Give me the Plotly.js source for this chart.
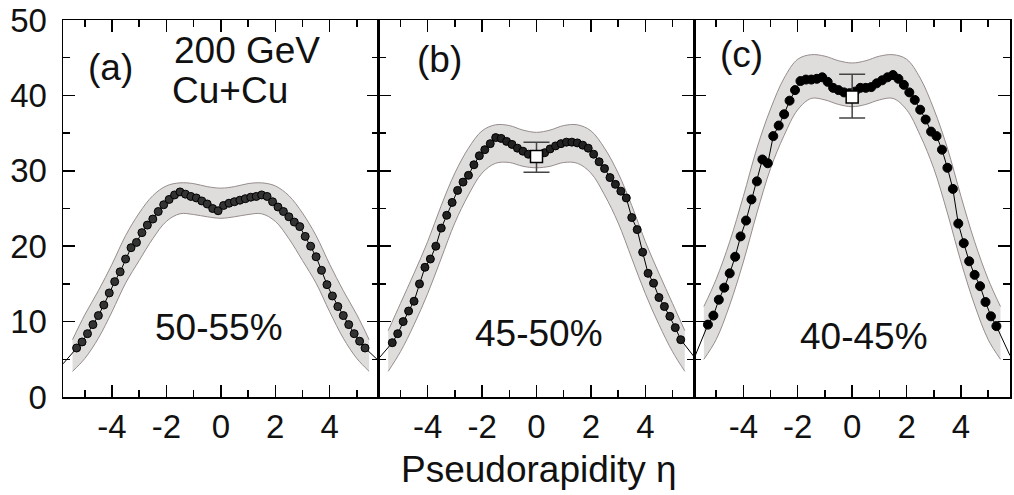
<!DOCTYPE html>
<html>
<head>
<meta charset="utf-8">
<script src="https://cdn.plot.ly/plotly-3.0.1.min.js"></script>
<style>html,body{margin:0;padding:0;background:#fff;}#plot{width:1014px;height:495px;}</style>
</head>
<body>
<div id="plot"></div>
<script>
// Pseudorapidity bin centres
const eta = [-5.3,-5.1,-4.9,-4.7,-4.5,-4.3,-4.1,-3.9,-3.7,-3.5,-3.3,-3.1,-2.9,-2.7,-2.5,-2.3,-2.1,-1.9,-1.7,-1.5,-1.3,-1.1,-0.9,-0.7,-0.5,-0.3,-0.1,
             0.1,0.3,0.5,0.7,0.9,1.1,1.3,1.5,1.7,1.9,2.1,2.3,2.5,2.7,2.9,3.1,3.3,3.5,3.7,3.9,4.1,4.3,4.5,4.7,4.9,5.1,5.3];

// dN/deta, Cu+Cu 200 GeV
const dataA = [6.5,7.3,8.4,9.6,10.8,12.2,13.8,15.3,16.6,18.3,19.8,20.5,21.8,22.8,23.6,24.6,25.5,26.2,26.8,27.2,26.9,26.6,26.4,26.0,25.6,25.0,24.7,
               25.4,25.7,25.9,26.1,26.3,26.5,26.6,26.8,26.6,25.9,25.2,24.6,23.9,23.2,22.6,21.3,20.0,18.6,16.8,14.9,13.4,12.0,10.8,9.6,8.4,7.4,6.5];
const dataB = [7.2,8.4,10.0,11.4,12.7,15.0,17.2,18.3,20.0,22.4,24.1,25.8,27.4,28.5,29.4,30.8,32.0,32.8,33.6,34.4,34.3,33.9,33.5,33.0,32.6,32.2,31.9,
               32.0,32.4,32.9,33.3,33.6,33.8,33.8,33.7,33.4,33.0,32.2,31.2,30.3,29.1,28.2,27.3,26.4,23.8,22.2,19.2,16.4,15.1,13.2,12.0,10.7,9.2,7.6];
const dataC = [9.6,10.8,12.9,14.5,16.4,18.6,21.3,23.4,26.2,28.6,31.5,31.0,34.6,36.0,37.5,39.3,40.7,41.9,42.1,42.1,42.2,42.4,41.8,41.0,40.7,40.4,40.3,
               40.5,41.0,41.0,41.1,41.6,42.0,42.4,42.7,42.2,41.4,40.4,39.4,38.1,36.8,35.2,34.6,32.8,30.4,27.6,23.0,20.4,18.0,16.2,14.7,12.6,10.7,9.4];

// thin line end values at the panel edges
const edgeEta = [-5.8, 5.8];
const edgeA = [4.4, 4.8];
const edgeB = [5.1, 5.3];
const edgeC = [5.2, 5.5];

// systematic band
const bandEta = [-5.45,-5,-4.5,-4,-3.5,-3,-2.5,-2,-1.5,-1,-0.5,0,0.5,1,1.5,2,2.5,3,3.5,4,4.5,5,5.45];
const upA = [7.6,10.9,14.1,17.6,21.4,24.4,26.7,28.0,28.4,28.3,27.9,27.7,27.9,28.3,28.4,28.0,26.7,24.4,21.4,17.6,14.1,10.9,7.6];
const loA = [3.4,5.1,7.8,11.3,15.1,18.1,21.0,23.3,24.3,24.2,23.9,23.7,23.9,24.2,24.3,23.3,21.0,18.1,15.1,11.3,7.8,5.1,3.4];
const upB = [8.8,12.4,16.4,20.6,25.4,29.7,33.0,35.3,36.1,36.0,35.4,35.1,35.4,36.0,36.1,35.3,33.0,29.7,25.4,20.6,16.4,12.4,8.8];
const loB = [3.4,6.0,9.6,13.7,18.4,23.1,26.8,29.7,31.0,31.1,30.6,30.4,30.6,31.1,31.0,29.7,26.8,23.1,18.4,13.7,9.6,6.0,3.4];
const upC = [12.0,15.6,20.6,26.6,33.0,38.2,42.3,44.8,45.4,45.2,44.6,44.3,44.6,45.2,45.4,44.8,42.3,38.2,33.0,26.6,20.6,15.6,12.0];
const loC = [5.0,7.6,12.2,17.9,24.4,30.3,34.7,38.1,39.6,39.4,38.8,38.5,38.8,39.4,39.6,38.1,34.7,30.3,24.4,17.9,12.2,7.6,5.0];

// reference point at eta = 0 (open square)
const refEta = [0];
const refB = [31.9], refBplus = [1.9], refBminus = [2.1];
const refC = [39.8], refCplus = [3.0], refCminus = [2.8];

const panelLabels = ['(a)', '(b)', '(c)'];
const centLabels = ['50-55%', '45-50%', '40-45%'];
const xTicks = [-4, -2, 0, 2, 4];
const xMinor = [-5, -3, -1, 1, 3, 5];

const bandFill = 'rgb(223,220,220)';
const bandLine = 'rgb(150,140,140)';
const FONT = 'Liberation Sans, Arial, sans-serif';

const traces = [];
function panel(ax, up, lo, data, edge, dotSize, dotColor) {
  const xa = 'x' + (ax === 1 ? '' : ax), ya = 'y' + (ax === 1 ? '' : ax);
  traces.push({x: bandEta, y: lo, xaxis: xa, yaxis: ya, mode: 'lines', line: {color: bandLine, width: 1, shape: 'spline'}, hoverinfo: 'skip', showlegend: false});
  traces.push({x: bandEta, y: up, xaxis: xa, yaxis: ya, mode: 'lines', fill: 'tonexty', fillcolor: bandFill, line: {color: bandLine, width: 1, shape: 'spline'}, hoverinfo: 'skip', showlegend: false});
  traces.push({x: [edgeEta[0]].concat(eta, [edgeEta[1]]), y: [edge[0]].concat(data, [edge[1]]), xaxis: xa, yaxis: ya, mode: 'lines', line: {color: '#000', width: 1}, showlegend: false});
  traces.push({x: eta, y: data, xaxis: xa, yaxis: ya, mode: 'markers', marker: {size: dotSize, color: dotColor, line: {color: '#000', width: 1}}, showlegend: false});
}
panel(1, upA, loA, dataA, edgeA, 8, '#333');
panel(2, upB, loB, dataB, edgeB, 8, '#222');
panel(3, upC, loC, dataC, edgeC, 9, '#000');

traces.push({x: refEta, y: refB, xaxis: 'x2', yaxis: 'y2', mode: 'markers', marker: {symbol: 'square', size: 12, color: '#fff', line: {color: '#000', width: 1.5}},
  error_y: {type: 'data', symmetric: false, array: refBplus, arrayminus: refBminus, color: '#444', thickness: 1.5, width: 13}, showlegend: false});
traces.push({x: refEta, y: refC, xaxis: 'x3', yaxis: 'y3', mode: 'markers', marker: {symbol: 'square', size: 12, color: '#fff', line: {color: '#000', width: 1.5}},
  error_y: {type: 'data', symmetric: false, array: refCplus, arrayminus: refCminus, color: '#444', thickness: 1.5, width: 13}, showlegend: false});

function xAxis(i, anchor) {
  return {domain: [i / 3, (i + 1) / 3], anchor: anchor, range: [-5.8, 5.8], tickvals: xTicks, ticktext: xTicks.map(String),
    ticks: 'inside', ticklen: 12, tickwidth: 1.5, tickcolor: '#000', mirror: 'ticks', showline: true, linecolor: '#000', linewidth: 1.5,
    showgrid: false, zeroline: false, ticklabelstandoff: 0,
    minor: {tickvals: xMinor, ticks: 'inside', ticklen: 7, tickwidth: 1.5, tickcolor: '#000', showgrid: false},
    tickfont: {family: FONT, size: 33, color: '#111'}};
}
function yAxis(anchor, labels) {
  return {domain: [0, 1], anchor: anchor, range: [0, 50], dtick: 10, tick0: 0, matches: anchor === 'x' ? undefined : 'y',
    ticks: 'inside', ticklen: 12, tickwidth: 1.5, tickcolor: '#000', mirror: 'ticks', showline: true, linecolor: '#000', linewidth: 1.5,
    showgrid: false, zeroline: false, showticklabels: labels, ticklabelstandoff: 8,
    minor: {dtick: 5, ticks: 'inside', ticklen: 7, tickwidth: 1.5, tickcolor: '#000', showgrid: false},
    tickfont: {family: FONT, size: 33, color: '#111'}};
}

const annFont = {family: FONT, size: 37, color: '#111'};
const annotations = [
  {text: panelLabels[0], x: 0.0497, y: 0.875},
  {text: panelLabels[1], x: 0.398, y: 0.895},
  {text: panelLabels[2], x: 0.717, y: 0.908},
  {text: '200 GeV', x: 0.194, y: 0.92},
  {text: 'Cu+Cu', x: 0.176, y: 0.812},
  {text: centLabels[0], x: 0.165, y: 0.185},
  {text: centLabels[1], x: 0.503, y: 0.169},
  {text: centLabels[2], x: 0.846, y: 0.161},
  {text: 'Pseudorapidity η', x: 0.503, y: -0.192}
].map(a => Object.assign({xref: 'paper', yref: 'paper', xanchor: 'center', yanchor: 'middle', showarrow: false, font: annFont}, a));

const layout = {
  width: 1014, height: 495,
  margin: {l: 63, r: 4, t: 20, b: 98},
  paper_bgcolor: '#fff', plot_bgcolor: '#fff',
  showlegend: false,
  xaxis: xAxis(0, 'y'), xaxis2: xAxis(1, 'y2'), xaxis3: xAxis(2, 'y3'),
  yaxis: yAxis('x', true), yaxis2: yAxis('x2', false), yaxis3: yAxis('x3', false),
  annotations: annotations
};
Plotly.newPlot('plot', traces, layout, {displayModeBar: false, staticPlot: true});
</script>
</body>
</html>
